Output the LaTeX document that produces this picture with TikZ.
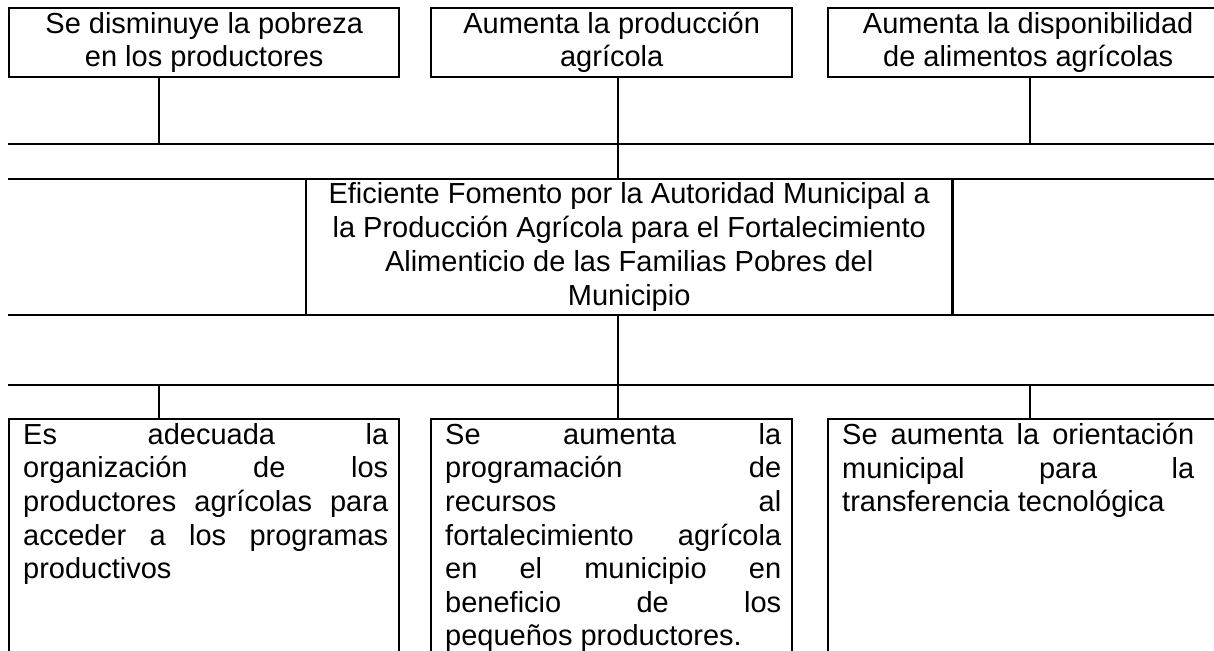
\documentclass[tikz,border=0pt]{standalone}
\usepackage{fontspec}
\setmainfont{Liberation Sans}
\usetikzlibrary{calc}
\newcommand\dfont{\fontsize{29}{33}\selectfont}
\newcommand\cfont{\fontsize{29}{34}\selectfont}
\newcommand\jfont{\fontsize{29}{33.6}\selectfont\tolerance=10000\hyphenpenalty=10000\exhyphenpenalty=10000}
\begin{document}
\begin{tikzpicture}[x=1pt,y=-1pt,
  lw/.style={line width=2.4pt},
  topbox/.style={draw, lw, anchor=north west, inner sep=0pt, minimum height=69pt, align=center, font=\dfont},
  botbox/.style={draw, lw, anchor=north west, inner sep=0pt, minimum height=262pt},
  bodytext/.style={anchor=north west, inner sep=0pt, align=justify, font=\jfont},
  link/.style={lw}
]
\useasboundingbox (0,0) rectangle (1214,650);
\begin{scope}
\clip (0,0) rectangle (1214,650);
% effects
\node[topbox, minimum width=390pt] (e1) at (8,7) {Se disminuye la pobreza\\en los productores};
\node[topbox, minimum width=361pt] (e2) at (430,7) {Aumenta la producción\\agrícola};
\node[topbox, minimum width=400pt] (e3) at (827,7) {Aumenta la disponibilidad\\de alimentos agrícolas};
% grid coordinates
\coordinate (ha) at (8,144);  \coordinate (hae) at (1222,144);
\coordinate (hb) at (8,179);  \coordinate (hbe) at (1222,179);
\coordinate (hc) at (8,315);  \coordinate (hce) at (1222,315);
\coordinate (hd) at (8,385);  \coordinate (hde) at (1222,385);
\coordinate (xa) at (159,0);
\coordinate (xb) at (618,0);
\coordinate (xc) at (1030,0);
% goal
\node[anchor=north west, inner sep=0pt, minimum width=646pt, minimum height=136pt] (gb) at (306,179) {};
\node[inner sep=0pt, align=center, font=\cfont] (goal) at (gb.center) {Eficiente Fomento por la Autoridad Municipal a\\la Producción Agrícola para el Fortalecimiento\\Alimenticio de las Familias Pobres del\hspace*{8pt}\\Municipio};
% causes
\node[botbox, minimum width=390pt] (c1) at (8,418) {};
\node[botbox, minimum width=361pt] (c2) at (430,418) {};
\node[botbox, minimum width=400pt] (c3) at (827,418) {};
\node[bodytext, text width=365pt] (c1t) at ($(c1.north west)+(15,5)$) {Es adecuada la\linebreak organización de los\linebreak productores agrícolas para\linebreak acceder a los programas\linebreak productivos};
\node[bodytext, text width=336pt] (c2t) at ($(c2.north west)+(15,5)$) {Se aumenta la\linebreak programación de\linebreak recursos al\linebreak fortalecimiento agrícola\linebreak en el municipio en\linebreak beneficio de los\linebreak pequeños productores.};
\node[bodytext, text width=352pt] (c3t) at ($(c3.north west)+(15,5)$) {Se aumenta la orientación\linebreak municipal para la\linebreak transferencia tecnológica};
% connectors
\draw[link] (e1.south -| xa) -- (xa |- ha);
\draw[link] (e2.south -| xb) -- (xb |- hb);
\draw[link] (e3.south -| xc) -- (xc |- ha);
\draw[link] (ha) -- (hae);
\draw[link] (hb) -- (hbe);
\draw[link] (hc) -- (hce);
\draw[link] (hd) -- (hde);
\draw[link] (gb.north west) -- (gb.south west);
\draw[link] (gb.north east) -- (gb.south east);
\draw[link] (xb |- hc) -- (c2.north -| xb);
\draw[link] (xa |- hd) -- (c1.north -| xa);
\draw[link] (xc |- hd) -- (c3.north -| xc);
\end{scope}
\end{tikzpicture}
\end{document}
